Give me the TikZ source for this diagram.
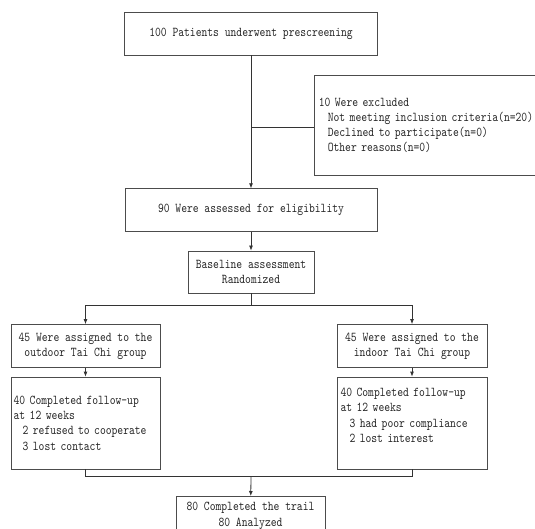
\documentclass[tikz,border=0pt]{standalone}
\usepackage{fontspec}
\newfontfamily\boxfont[FakeStretch=0.82]{lmmono10-regular.otf}
\usetikzlibrary{arrows.meta}
\tikzstyle{bx}=[draw=black!70,line width=0.8pt,inner sep=0pt,text=black!85,font=\boxfont\fontsize{13.5}{15.3}\selectfont]
\tikzstyle{ar}=[-{Latex[length=5pt,width=4pt]},line width=0.8pt,draw=black!80]
\tikzstyle{ln}=[line width=0.8pt,draw=black!80]

\begin{document}
\begin{tikzpicture}[x=1pt,y=-1pt]
\useasboundingbox (0,0) rectangle (535,529);
% boxes
\node[bx,minimum width=252.5pt,minimum height=43pt] (pre) at (251,33.5) {100 Patients underwent prescreening};
\node[bx,anchor=north west,minimum height=100pt,text width=241pt,inner xsep=4.4pt,align=left] (excl) at (314,75)
  {10 Were excluded\\\ \ Not meeting inclusion criteria(n=20)\\\ \ Declined to participate(n=0)\\\ \ Other reasons(n=0)};
\node[bx,minimum width=252pt,minimum height=42.5pt] (elig) at (251,210) {90 Were assessed for eligibility};
\node[bx,minimum width=126pt,minimum height=42pt,align=center] (base) at (251,272) {Baseline assessment\\Randomized};
\node[bx,minimum width=149pt,minimum height=43pt,align=center] (outA) at (85.5,346) {45 Were assigned to the\\outdoor Tai Chi group};
\node[bx,minimum width=150pt,minimum height=43pt,align=center] (outB) at (412,346) {45 Were assigned to the\\indoor Tai Chi group};
\node[bx,minimum height=92pt,text width=143.8pt,inner xsep=2.6pt,align=left] (fupA) at (85.5,423)
  {40 Completed follow-up\\at 12 weeks\\\ \ 2 refused to cooperate\\\ \ 3 lost contact};
\node[bx,minimum height=92pt,text width=143pt,inner xsep=3.5pt,align=left] (fupB) at (412,423)
  {40 Completed follow-up\\at 12 weeks\\\ \ 3 had poor compliance\\\ \ 2 lost interest\\\mbox{}};
\node[bx,anchor=north,minimum width=149pt,minimum height=39pt,align=center] (done) at (250.5,496) {80 Completed the trail\\80 Analyzed};
% connectors
\coordinate (br) at (251,127);
\coordinate (split) at (251,305);
\coordinate (join) at (251,476.8);
\draw[ar] (pre) -- (elig);
\draw[ln] (br) -- (br -| excl.west);
\draw[ar] (elig) -- (base);
\draw[ln] (base) -- (split);
\draw[ar] (split) -| (outA);
\draw[ar] (split) -| (outB);
\draw[ar] (outA) -- (fupA);
\draw[ar] (outB) -- (fupB);
\draw[ln] (fupA) |- (join) -| (fupB);
\draw[ar] (join) -- (done);
\end{tikzpicture}
\end{document}
